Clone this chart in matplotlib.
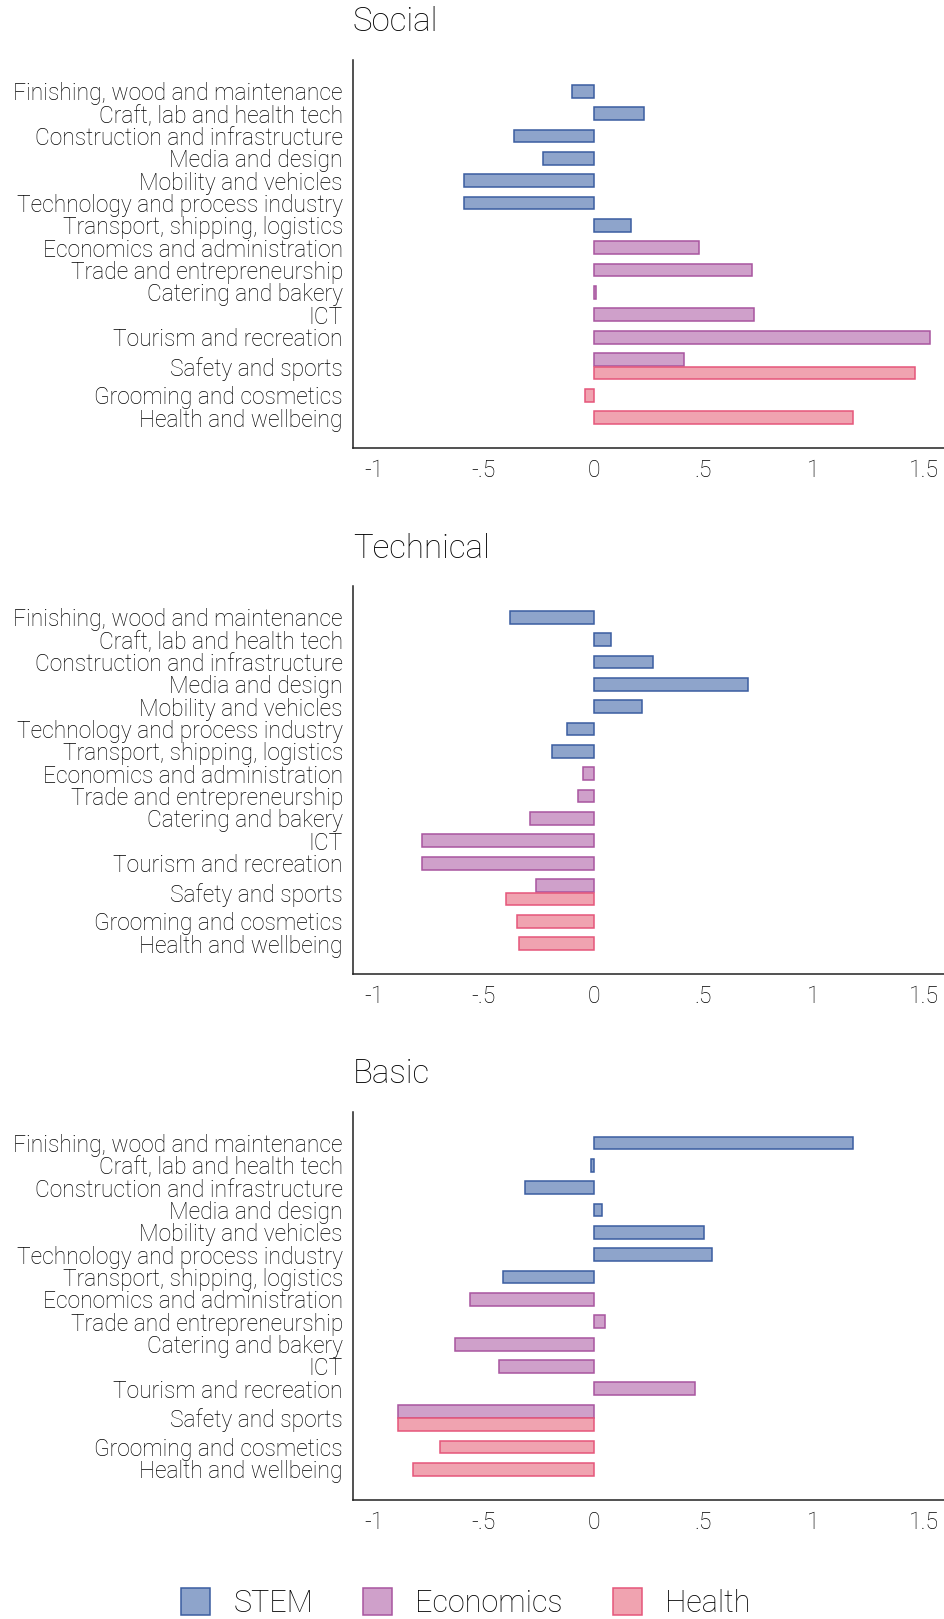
import matplotlib.pyplot as plt
from matplotlib.patches import Patch

plt.rcParams["font.family"] = ["Roboto", "DejaVu Sans"]
plt.rcParams["font.weight"] = "light"
plt.rcParams["text.color"] = "black"
plt.rcParams["xtick.color"] = "black"
plt.rcParams["ytick.color"] = "black"

# one entry per bar; "Safety and sports" shows up in two groups
fields = [
    "Finishing, wood and maintenance",
    "Craft, lab and health tech",
    "Construction and infrastructure",
    "Media and design",
    "Mobility and vehicles",
    "Technology and process industry",
    "Transport, shipping, logistics",
    "Economics and administration",
    "Trade and entrepreneurship",
    "Catering and bakery",
    "ICT",
    "Tourism and recreation",
    "Safety and sports",
    "Safety and sports",
    "Grooming and cosmetics",
    "Health and wellbeing",
]
groups = ["STEM"] * 7 + ["Economics"] * 6 + ["Health"] * 3

social = [-0.10, 0.23, -0.36, -0.23, -0.59, -0.59, 0.17,
          0.48, 0.72, 0.01, 0.73, 1.53, 0.41,
          1.46, -0.04, 1.18]
technical = [-0.38, 0.08, 0.27, 0.70, 0.22, -0.12, -0.19,
             -0.05, -0.07, -0.29, -0.78, -0.78, -0.26,
             -0.40, -0.35, -0.34]
basic = [1.18, -0.01, -0.31, 0.04, 0.50, 0.54, -0.41,
         -0.56, 0.05, -0.63, -0.43, 0.46, -0.89,
         -0.89, -0.70, -0.82]

panels = [("Social", social), ("Technical", technical), ("Basic", basic)]
xticks = [-1, -0.5, 0, 0.5, 1, 1.5]

FILL = {"STEM": "#8ea4cb", "Economics": "#cfa0ca", "Health": "#f0a3b0"}
EDGE = {"STEM": "#3a5da0", "Economics": "#a8559f", "Health": "#e5567a"}


def tick_text(v):
    s = f"{v:g}"
    return s.replace("0.", ".")


# bar positions: the health block sits a bit closer to the economics block
ypos = []
for i, g in enumerate(groups):
    ypos.append(i - 0.4 if g == "Health" else float(i))

# one label per field, centred over its bars
label_pos = {}
for f, y in zip(fields, ypos):
    label_pos.setdefault(f, []).append(y)
label_names = list(label_pos)
label_y = [sum(v) / len(v) for v in label_pos.values()]

W, H = 944, 1619
fig = plt.figure(figsize=(W / 100, H / 100), dpi=100)

ax_left = 352.7 / W
ax_width = 1 - ax_left
tops = [60, 586, 1111.7]
ax_h = 388

for (name, values), top in zip(panels, tops):
    ax = fig.add_axes([ax_left, 1 - (top + ax_h) / H, ax_width, ax_h / H])
    ax.barh(ypos, values, height=0.57,
            color=[FILL[g] for g in groups],
            edgecolor=[EDGE[g] for g in groups], linewidth=1.1)
    ax.set_xlim(-1.095, 1.593)
    ax.set_ylim(15.96, -1.4)
    ax.set_yticks(label_y)
    ax.set_yticklabels(label_names, fontsize=16.4)
    ax.set_xticks(xticks)
    ax.set_xticklabels([tick_text(v) for v in xticks], fontsize=16.6)
    ax.tick_params(axis="both", length=0)
    ax.tick_params(axis="y", pad=7)
    ax.tick_params(axis="x", pad=8)
    for side in ("top", "right"):
        ax.spines[side].set_visible(False)
    for side in ("left", "bottom"):
        ax.spines[side].set_color("#222222")
        ax.spines[side].set_linewidth(1.1)
    ax.text(0, 1 + 37.5 / ax_h, name, transform=ax.transAxes,
            fontsize=23.8, ha="left", va="center")

handles = [Patch(facecolor=FILL[g], edgecolor=EDGE[g], linewidth=1.1, label=g)
           for g in ["STEM", "Economics", "Health"]]
fig.legend(handles=handles, loc="center", bbox_to_anchor=(0.4935, 1 - 1603 / H),
           ncol=3, frameon=False, fontsize=22, handlelength=0.95,
           handleheight=0.95, handletextpad=0.75, columnspacing=1.65)

fig.savefig("out.png", dpi=100)
